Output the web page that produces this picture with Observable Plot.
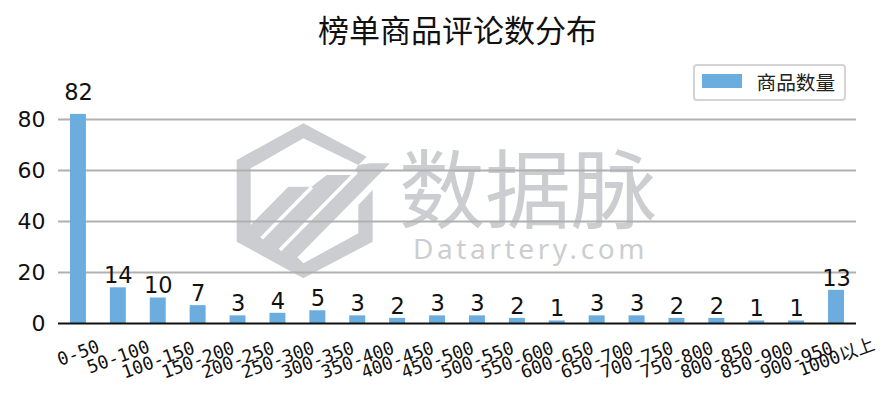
<!DOCTYPE html>
<html><head><meta charset="utf-8">
<script src="https://cdn.jsdelivr.net/npm/d3@7"></script>
<script src="https://cdn.jsdelivr.net/npm/@observablehq/plot@0.6"></script>
<style>
html,body{margin:0;padding:0;background:#fff;width:895px;height:401px;overflow:hidden;font-family:"DejaVu Sans","Noto Sans CJK SC",sans-serif}
#title{position:absolute;left:0;top:0;width:915px;height:60px;line-height:62px;text-align:center;font-size:31px;color:#111;font-family:"DejaVu Sans","Noto Sans CJK SC",sans-serif;white-space:nowrap}
#chart{position:absolute;left:0;top:60px}
#wm{position:absolute;left:0;top:0}
#legend{position:absolute;left:692.5px;top:63.5px;width:149px;height:33px;border:2px solid #d4d4d4;border-radius:4px;background:#fff;font-size:19.7px;color:#222;font-family:"Noto Sans CJK SC",sans-serif}
#legend i{position:absolute;left:7px;top:8px;width:40px;height:14px;background:#6caddf}
#legend span{position:absolute;left:62px;top:0;line-height:31px;white-space:nowrap}
</style></head><body>
<svg id="wm" width="895" height="401" viewBox="0 0 895 401">
  <g transform="translate(220 110) scale(0.33333)">
    <path fill="#cbcdd0" d="M250 40L440 140L415 165L450 160L510 160L232 442L250 460L415 370L415 285L458 240L458 395L250 505L50 395L50 150Z"/>
    <path fill="#fff" d="M92 175L250 85L415 165L395 195L320 195L275 230L205 230L92 345Z"/>
    <g stroke="#fff" stroke-width="11" fill="none">
      <path d="M125 385L275 232"/><path d="M180 420L410 185"/>
    </g>
  </g>
  <text x="399" y="222" font-size="86" fill="#cbcdd0" font-family="Noto Sans CJK SC">数据脉</text>
  <text x="413" y="259" font-size="28" fill="#cbcdd0" letter-spacing="3.6" font-family="Noto Sans">Datartery.com</text>
</svg>
<div id="title">榜单商品评论数分布</div>
<div id="chart"></div>
<div id="legend"><i></i><span>商品数量</span></div>
<script>
const categories = ["0-50","50-100","100-150","150-200","200-250","250-300","300-350","350-400","400-450","450-500","500-550","550-600","600-650","650-700","700-750","750-800","800-850","850-900","900-950","1000以上"];
const counts = [82,14,10,7,3,4,5,3,2,3,3,2,1,3,3,2,2,1,1,13];
const yTicks = [0,20,40,60,80];
const rows = categories.map((c,i)=>({c,v:counts[i]}));
const axisFont = {fontFamily:"'DejaVu Sans Mono','Noto Sans CJK SC',monospace",fontSize:18,fill:"#111"};
const xAxis = (ticks,dy) => Plot.axisX({ticks,tickSize:0,tickRotate:-20,textAnchor:"middle",lineAnchor:"middle",label:null,dy,...axisFont});
const labelFont = {x:"c",y:"v",text:d=>String(d.v),fontSize:22.5,fill:"#111",fontFamily:"DejaVu Sans"};
const plot = Plot.plot({
  width:895,height:341,
  marginLeft:58,marginRight:39,marginTop:20,marginBottom:78,
  style:{background:"transparent",overflow:"visible"},
  x:{domain:categories,paddingInner:0.6,paddingOuter:0.3,align:0.5,round:false,axis:null},
  y:{domain:[0,80],range:[263,59],axis:null},
  marks:[
    Plot.ruleY(yTicks.filter(d=>d>0),{stroke:"#b0b0b0",strokeWidth:2,strokeOpacity:1}),
    Plot.barY(rows,{x:"c",y:"v",fill:"#6caddf"}),
    Plot.ruleY([0],{stroke:"#111",strokeWidth:2}),
    Plot.text(rows.filter(d=>d.v<=80),{...labelFont,dy:-12}),
    Plot.text(rows.filter(d=>d.v>80),{...labelFont,dy:-22}),
    Plot.axisY({ticks:yTicks,tickSize:0,label:null,tickPadding:13,fontSize:22,fill:"#111",fontFamily:"DejaVu Sans"}),
    xAxis(categories.filter(c=>c.length===4),17),
    xAxis(categories.filter(c=>c.length===6),21),
    xAxis(categories.filter(c=>c.length>=7),24)
  ]
});
document.getElementById("chart").append(plot);
</script>
</body></html>
